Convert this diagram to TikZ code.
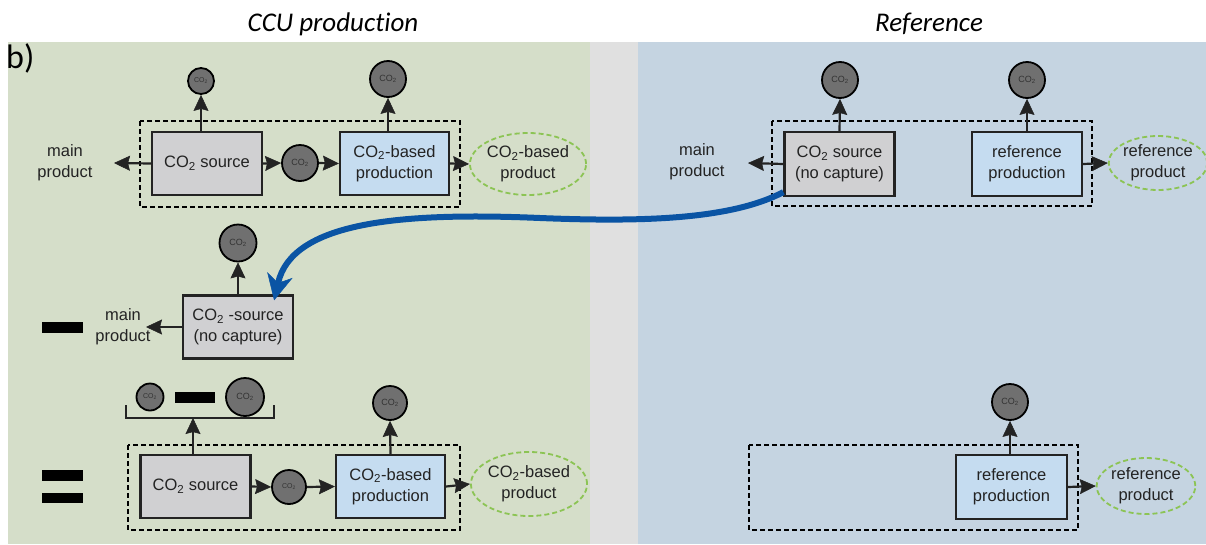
\documentclass[tikz,border=0pt]{standalone}
\usepackage{fontspec}
\setmainfont{Liberation Sans}
\newfontfamily\calfont[Ligatures=NoCommon]{Carlito}
\usetikzlibrary{arrows.meta,shapes.geometric}
\definecolor{bggreen}{RGB}{213,222,201}
\definecolor{bggray}{RGB}{224,224,224}
\definecolor{bgblue}{RGB}{197,212,225}
\definecolor{boxgray}{RGB}{208,208,210}
\definecolor{boxblue}{RGB}{197,220,240}
\definecolor{circgray}{RGB}{112,112,112}
\definecolor{ellgreen}{RGB}{140,196,84}
\definecolor{arrblue}{RGB}{10,84,164}
\definecolor{inkc}{RGB}{35,35,35}
\tikzset{
  txt/.style={font=\fontsize{16.5}{21}\selectfont, text=inkc, align=center},
  procbox/.style={txt, draw=inkc, line width=2.2pt, minimum width=110pt, minimum height=63pt, inner sep=0pt},
  graybox/.style={procbox, fill=boxgray},
  bluebox/.style={procbox, fill=boxblue},
  co2c/.style={circle, draw=black, line width=1.8pt, fill=circgray, inner sep=0pt, minimum size=#1, text=black!80,
     font=\fontsize{9}{9}\selectfont},
  co2s/.style={co2c=#1, font=\fontsize{7}{7}\selectfont},
  prodell/.style={ellipse, txt, draw=ellgreen, dash pattern=on 5pt off 3pt, line width=1.8pt, inner sep=0pt},
  arr/.style={line width=2.2pt, draw=inkc, -{Stealth[length=16pt,width=15pt,inset=2pt,line width=0.5pt]}},
  dashbox/.style={draw=black, line width=1.4pt, dash pattern=on 5pt off 3pt},
  bar/.style={fill=black, draw=none},
  title/.style={font=\calfont\itshape\fontsize{27}{27}\selectfont}
}
\begin{document}
\begin{tikzpicture}[x=1pt,y=-1pt]
\useasboundingbox (0,0) rectangle (1206,544);
\fill[white] (0,0) rectangle (1206,544);
% panels
\fill[bggreen] (8,42) rectangle (590,544);
\fill[bggray] (590,42) rectangle (638,544);
\fill[bgblue] (638,42) rectangle (1206,544);
% titles
\node[title] (t1) at (333,24) {CCU production};
\node[title] (t2) at (929,24) {Reference};
\node[font=\calfont\fontsize{34}{34}\selectfont, anchor=west, inner sep=0pt] (lb) at (6,58) {b)};

% ===== top left =====
\draw[dashbox] (140,121) rectangle (460,207);
\node[graybox] (src1) at (207,163.5) {CO\textsubscript{2} source};
\node[co2c=36pt] (c1mid) at (300,163) {CO\textsubscript{2}};
\node[bluebox, minimum width=109pt] (prod1) at (394.5,163.5) {CO\textsubscript{2}-based\\production};
\node[co2s=26pt] (c1top) at (201,81) {CO\textsubscript{2}};
\node[co2c=36pt] (c1top2) at (388,79) {CO\textsubscript{2}};
\node[prodell, minimum width=100pt, minimum height=62pt] (ell1) at (528,164) {CO\textsubscript{2}-based\\product};
\node[txt] (mp1) at (65,163) {main\\product};
\coordinate (mp1tip) at (114,163);
\draw[arr] (src1.west) -- (mp1tip);
\draw[arr] (c1top |- src1.north) -- (c1top.south);
\draw[arr] (src1.east) -- (c1mid.west);
\draw[arr] (c1mid.east) -- (prod1.west);
\draw[arr] (c1top2 |- prod1.north) -- (c1top2.south);
\draw[arr] (prod1.east) -- (ell1.west);

% ===== middle left =====
\fill[bar] (42,322) rectangle (83,333);
\node[graybox] (src2) at (238,327) {CO\textsubscript{2} -source\\(no capture)};
\node[co2c=37pt] (c2) at (238,243) {CO\textsubscript{2}};
\node[txt] (mp2) at (123,327) {main\\product};
\coordinate (mp2tip) at (146,327);
\draw[arr] (src2.north) -- (c2.south);
\draw[arr] (src2.west) -- (mp2tip);

% ===== bottom left =====
\fill[bar] (42,470) rectangle (83,481);
\fill[bar] (42,493) rectangle (83,503);
\draw[dashbox] (128,445) rectangle (460,530);
\node[graybox] (src3) at (195.5,486.5) {CO\textsubscript{2} source};
\node[co2s=34pt] (c3mid) at (289,487) {CO\textsubscript{2}};
\node[bluebox, minimum width=109pt] (prod3) at (390.5,486.5) {CO\textsubscript{2}-based\\production};
\node[co2c=34pt] (c3top) at (390,403) {CO\textsubscript{2}};
\node[prodell, minimum width=100pt, minimum height=64pt] (ell3) at (529,484) {CO\textsubscript{2}-based\\product};
\node[co2s=27pt] (cs) at (150,397) {CO\textsubscript{2}};
\fill[bar] (175,392) rectangle (215,403);
\node[co2c=38pt] (cb) at (245,397) {CO\textsubscript{2}};
\draw[line width=1.6pt, draw=inkc] (126,405) -- (126,418) coordinate (brl) -- (274,418) coordinate (brr) -- (274,405);
\coordinate (brm) at (193,418);
\draw[arr] (brm |- src3.north) -- (brm);
\draw[arr] (src3.east) -- (c3mid.west);
\draw[arr] (c3mid.east) -- (prod3.west);
\draw[arr] (prod3.north) -- (c3top.south);
\draw[arr] (prod3.east) -- (ell3.west);

% ===== top right =====
\draw[dashbox] (772,121) rectangle (1092,206);
\node[graybox, minimum height=64pt] (src4) at (839.5,164) {CO\textsubscript{2} source\\(no capture)};
\node[co2c=36pt] (c4a) at (840,80) {CO\textsubscript{2}};
\node[bluebox, minimum height=64pt] (ref4) at (1027,164) {reference\\production};
\node[co2c=36pt] (c4b) at (1027,80) {CO\textsubscript{2}};
\node[prodell, minimum width=94pt, minimum height=54pt] (ell4) at (1158,163) {reference\\product};
\node[txt] (mp4) at (697,162) {main\\product};
\coordinate (mp4tip) at (748,163);
\draw[arr] (src4.north) -- (c4a.south);
\draw[arr] (ref4.north) -- (c4b.south);
\draw[arr] (src4.west) -- (mp4tip);
\draw[arr] (ref4.east) -- (ell4.west);

% ===== bottom right =====
\draw[dashbox] (749,445) rectangle (1078,530);
\node[bluebox, minimum width=111pt, minimum height=64pt] (ref5) at (1011.5,487) {reference\\production};
\node[co2c=36pt] (c5) at (1010,402) {CO\textsubscript{2}};
\node[prodell, minimum width=96pt, minimum height=56pt] (ell5) at (1146,486) {reference\\product};
\draw[arr] (c5 |- ref5.north) -- (c5.south);
\draw[arr] (ref5.east) -- (ell5.west);

% ===== blue arrow =====
\draw[line width=6pt, draw=arrblue, -{Stealth[length=26pt,width=26pt,inset=8pt,line width=0.5pt]}]
  ([yshift=5pt]src4.south west) .. controls (730,220) and (640,222) .. (540,218)
  .. controls (400,212) and (292,222) .. ([xshift=-20pt,yshift=-6pt]src2.north east);
\end{tikzpicture}
\end{document}
